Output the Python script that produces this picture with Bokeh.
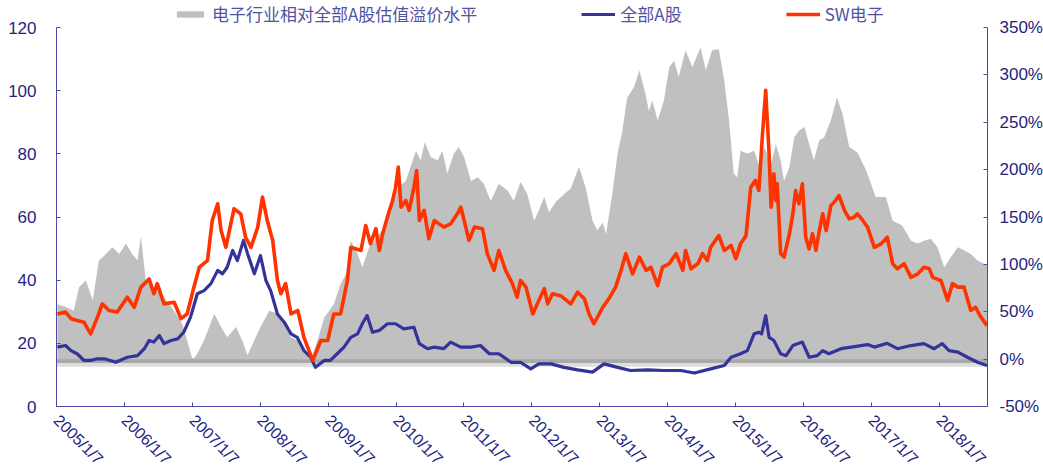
import math
from bokeh.plotting import figure
from bokeh.models import (Range1d, LinearAxis, FixedTicker, PrintfTickFormatter,
                          Legend, LegendItem, BoxAnnotation)
from bokeh.embed import file_html
from bokeh.resources import INLINE

# ---------------- data (time in decimal years) ----------------
prem_t = [2005.03, 2005.15, 2005.27, 2005.35, 2005.45, 2005.55, 2005.64, 2005.72, 2005.84, 2005.94,
          2006.04, 2006.13, 2006.21, 2006.26, 2006.33, 2006.43, 2006.60, 2006.75, 2006.87, 2006.94,
          2007.02, 2007.09, 2007.19, 2007.34, 2007.44, 2007.53, 2007.66, 2007.75, 2007.83, 2007.93,
          2008.02, 2008.15, 2008.27, 2008.37, 2008.47, 2008.56, 2008.66, 2008.76, 2008.86, 2008.96,
          2009.10, 2009.20, 2009.28, 2009.35, 2009.45, 2009.52, 2009.62, 2009.74, 2009.84, 2009.94,
          2010.04, 2010.16, 2010.31, 2010.38, 2010.44, 2010.53, 2010.63, 2010.70, 2010.77, 2010.87,
          2010.94, 2011.02, 2011.12, 2011.22, 2011.31, 2011.41, 2011.53, 2011.66, 2011.75, 2011.85,
          2011.95, 2012.05, 2012.12, 2012.20, 2012.27, 2012.37, 2012.49, 2012.59, 2012.71, 2012.81,
          2012.91, 2012.98, 2013.06, 2013.11, 2013.20, 2013.28, 2013.35, 2013.42, 2013.52, 2013.60,
          2013.69, 2013.74, 2013.79, 2013.87, 2013.96, 2014.04, 2014.11, 2014.18, 2014.28, 2014.38,
          2014.50, 2014.58, 2014.67, 2014.77, 2014.85, 2014.92, 2014.99, 2015.04, 2015.09, 2015.19,
          2015.29, 2015.37, 2015.44, 2015.54, 2015.61, 2015.68, 2015.73, 2015.81, 2015.88, 2015.95,
          2016.03, 2016.10, 2016.17, 2016.25, 2016.32, 2016.42, 2016.51, 2016.59, 2016.69, 2016.81,
          2016.94, 2017.08, 2017.23, 2017.33, 2017.47, 2017.60, 2017.70, 2017.79, 2017.89, 2017.99,
          2018.09, 2018.19, 2018.29, 2018.38, 2018.48, 2018.58, 2018.72]
prem_v = [58, 55, 51, 76, 83, 62, 104, 109, 118, 111,
          122, 111, 104, 130, 83, 76, 65, 51, 37, 20,
          -1, 6, 20, 48, 34, 23, 34, 20, 4, 20,
          34, 51, 48, 41, 23, 20, 9, -1, 20, 44,
          58, 79, 90, 125, 111, 97, 118, 129, 139, 160,
          181, 188, 220, 210, 229, 213, 210, 220, 196, 217,
          224, 213, 188, 192, 185, 167, 185, 178, 167, 187,
          174, 146, 157, 171, 155, 166, 174, 180, 203, 181,
          146, 136, 144, 132, 174, 217, 241, 276, 287, 305,
          280, 262, 273, 252, 273, 308, 315, 298, 326, 308,
          329, 305, 326, 327, 294, 252, 196, 192, 220, 217,
          220, 203, 224, 206, 227, 210, 188, 203, 234, 241,
          245, 227, 210, 231, 234, 252, 276, 259, 224, 218,
          199, 171, 171, 146, 141, 125, 122, 125, 127, 118,
          97, 108, 118, 115, 111, 104, 99]

a_t = [2005.03, 2005.15, 2005.23, 2005.32, 2005.42, 2005.52, 2005.62, 2005.72, 2005.89, 2006.06,
       2006.21, 2006.31, 2006.38, 2006.45, 2006.53, 2006.60, 2006.70, 2006.80, 2006.89, 2006.99,
       2007.09, 2007.19, 2007.29, 2007.39, 2007.46, 2007.53, 2007.61, 2007.68, 2007.77, 2007.83,
       2007.93, 2008.02, 2008.10, 2008.17, 2008.27, 2008.37, 2008.47, 2008.56, 2008.66, 2008.76,
       2008.83, 2008.96, 2009.05, 2009.15, 2009.25, 2009.35, 2009.45, 2009.52, 2009.59, 2009.67,
       2009.77, 2009.89, 2010.01, 2010.13, 2010.28, 2010.36, 2010.48, 2010.58, 2010.72, 2010.82,
       2010.97, 2011.12, 2011.26, 2011.39, 2011.53, 2011.71, 2011.85, 2012.00, 2012.12, 2012.30,
       2012.49, 2012.69, 2012.91, 2013.08, 2013.28, 2013.47, 2013.72, 2013.96, 2014.21, 2014.41,
       2014.65, 2014.85, 2014.95, 2015.09, 2015.19, 2015.29, 2015.36, 2015.40, 2015.46, 2015.51,
       2015.58, 2015.68, 2015.76, 2015.86, 2016.00, 2016.10, 2016.22, 2016.30, 2016.39, 2016.57,
       2016.72, 2016.96, 2017.06, 2017.25, 2017.40, 2017.60, 2017.79, 2017.94, 2018.06, 2018.16,
       2018.29, 2018.43, 2018.58, 2018.72]
a_v = [18.8, 19.3, 17.7, 16.7, 14.6, 14.6, 15.1, 15.1, 14.0, 15.6,
       16.1, 18.3, 20.9, 20.4, 22.5, 19.9, 20.9, 21.4, 23.5, 28.3,
       35.7, 36.7, 38.9, 43.1, 42.0, 44.1, 49.4, 46.2, 52.6, 48.4,
       42.0, 47.8, 39.9, 36.7, 29.3, 26.7, 23.0, 21.9, 17.7, 15.6,
       12.4, 14.6, 14.6, 16.7, 18.8, 21.9, 23.0, 26.2, 28.8, 23.5,
       24.1, 26.2, 26.2, 24.6, 25.1, 19.9, 18.3, 18.8, 18.3, 20.4,
       18.8, 18.8, 19.3, 16.7, 16.7, 14.0, 14.0, 11.9, 13.5, 13.5,
       12.4, 11.6, 10.9, 13.5, 12.4, 11.4, 11.6, 11.4, 11.4, 10.6,
       11.9, 13.0, 15.6, 16.7, 17.7, 23.0, 23.5, 23.0, 28.8, 21.9,
       20.9, 16.7, 16.1, 19.3, 20.4, 15.6, 16.1, 17.7, 16.7, 18.3,
       18.8, 19.6, 18.8, 20.0, 18.3, 19.3, 19.9, 18.3, 19.9, 17.7,
       17.2, 15.6, 14.0, 13.0]

sw_t = [2005.03, 2005.15, 2005.23, 2005.32, 2005.42, 2005.52, 2005.62, 2005.69, 2005.79, 2005.91,
        2006.06, 2006.16, 2006.26, 2006.38, 2006.45, 2006.50, 2006.60, 2006.75, 2006.85, 2006.94,
        2007.04, 2007.12, 2007.24, 2007.31, 2007.39, 2007.44, 2007.51, 2007.63, 2007.73, 2007.80,
        2007.88, 2007.98, 2008.05, 2008.12, 2008.20, 2008.27, 2008.32, 2008.39, 2008.47, 2008.57,
        2008.66, 2008.79, 2008.91, 2009.01, 2009.10, 2009.20, 2009.30, 2009.35, 2009.50, 2009.57,
        2009.64, 2009.72, 2009.77, 2009.82, 2009.91, 2009.96, 2010.01, 2010.05, 2010.09, 2010.16,
        2010.21, 2010.28, 2010.32, 2010.36, 2010.43, 2010.50, 2010.58, 2010.72, 2010.82, 2010.92,
        2010.97, 2011.02, 2011.09, 2011.17, 2011.29, 2011.36, 2011.46, 2011.53, 2011.63, 2011.73,
        2011.80, 2011.85, 2011.93, 2012.03, 2012.12, 2012.20, 2012.25, 2012.32, 2012.44, 2012.59,
        2012.69, 2012.79, 2012.86, 2012.93, 2013.06, 2013.15, 2013.25, 2013.33, 2013.40, 2013.50,
        2013.60, 2013.70, 2013.77, 2013.87, 2013.94, 2014.04, 2014.14, 2014.24, 2014.28, 2014.36,
        2014.46, 2014.53, 2014.60, 2014.65, 2014.77, 2014.85, 2014.95, 2015.02, 2015.09, 2015.17,
        2015.24, 2015.31, 2015.36, 2015.41, 2015.46, 2015.51, 2015.54, 2015.58, 2015.61, 2015.63,
        2015.68, 2015.73, 2015.81, 2015.86, 2015.90, 2015.95, 2016.00, 2016.05, 2016.10, 2016.15,
        2016.20, 2016.25, 2016.30, 2016.35, 2016.42, 2016.49, 2016.54, 2016.62, 2016.69, 2016.76,
        2016.81, 2016.89, 2016.96, 2017.06, 2017.16, 2017.25, 2017.33, 2017.40, 2017.50, 2017.60,
        2017.70, 2017.79, 2017.87, 2017.92, 2018.04, 2018.14, 2018.21, 2018.29, 2018.38, 2018.48,
        2018.55, 2018.63, 2018.72]
sw_v = [29.3, 29.9, 27.8, 27.2, 26.7, 23.0, 28.3, 32.5, 30.4, 29.9,
        34.6, 31.4, 37.8, 40.4, 35.7, 38.9, 32.5, 33.0, 27.8, 29.3,
        37.8, 44.1, 46.2, 58.9, 64.2, 55.7, 50.4, 62.6, 61.0, 53.6,
        50.4, 56.8, 66.3, 58.9, 52.6, 39.9, 35.7, 38.9, 29.3, 30.4,
        21.9, 14.6, 20.9, 20.9, 29.3, 29.3, 39.9, 50.4, 49.4, 57.3,
        51.5, 56.3, 49.4, 54.7, 61.5, 64.7, 69.4, 75.8, 63.1, 65.2,
        62.1, 69.4, 74.7, 58.9, 62.1, 53.1, 58.9, 56.8, 57.8, 61.0,
        63.1, 58.9, 52.6, 56.8, 56.3, 48.4, 43.1, 49.4, 43.1, 38.9,
        34.6, 39.9, 37.8, 29.3, 33.6, 37.3, 32.5, 35.7, 35.1, 32.5,
        36.2, 34.1, 29.3, 26.2, 31.4, 34.1, 37.8, 43.1, 48.4, 42.0,
        47.3, 43.1, 44.1, 38.3, 44.1, 45.2, 48.4, 43.1, 49.4, 43.6,
        45.2, 48.4, 46.2, 50.4, 54.1, 49.4, 51.0, 46.8, 51.5, 54.1,
        69.4, 71.6, 68.4, 85.3, 100.1, 80.0, 63.1, 73.7, 65.2, 70.5,
        48.4, 47.3, 54.7, 61.0, 68.4, 64.2, 70.5, 53.6, 49.9, 54.7,
        49.4, 55.7, 61.0, 55.7, 63.6, 65.2, 66.8, 62.1, 59.4, 59.9,
        61.0, 58.9, 56.8, 50.4, 51.5, 53.6, 45.2, 43.6, 45.2, 40.9,
        42.0, 44.1, 43.6, 40.9, 39.9, 33.6, 38.9, 37.8, 37.8, 30.4,
        31.4, 28.3, 25.6]

tick_years = [2005, 2006, 2007, 2008, 2009, 2010, 2011, 2012, 2013, 2014, 2015, 2016, 2017, 2018]
tick_labels = ["2005/1/7", "2006/1/7", "2007/1/7", "2008/1/7", "2009/1/7", "2010/1/7", "2011/1/7",
               "2012/1/7", "2013/1/7", "2014/1/7", "2015/1/7", "2016/1/7", "2017/1/7", "2018/1/7"]
left_ticks = [0, 20, 40, 60, 80, 100, 120]
right_ticks = [-50, 0, 50, 100, 150, 200, 250, 300, 350]

legend_labels = ["电子行业相对全部A股估值溢价水平", "全部A股", "SW电子"]

# ---------------- styling ----------------
NAVY = "#1f1f80"
AXIS = "#4a4aa8"
GREY = "#c0c0c0"
BLUE = "#333399"
RED = "#ff3300"
FONT = "Liberation Sans"
CJK = "Noto Sans CJK SC"

# frame covers the legend strip too; axes are bounded to the data ranges
FRAME_H = 406
AXIS_H = 379
left_top = left_ticks[-1] * FRAME_H / AXIS_H
right_top = right_ticks[0] + (right_ticks[-1] - right_ticks[0]) * FRAME_H / AXIS_H

x0 = tick_years[0] + 6 / 365.0
x1 = x0 + 13.71

p = figure(frame_width=931, frame_height=FRAME_H,
           x_range=Range1d(x0, x1), y_range=Range1d(0, left_top),
           output_backend="svg", toolbar_location=None,
           min_border_left=56, min_border_right=55, min_border_top=0, min_border_bottom=65,
           background_fill_color="white", border_fill_color="white")
p.extra_y_ranges = {"pct": Range1d(right_ticks[0], right_top)}
p.xgrid.visible = False
p.ygrid.visible = False
p.outline_line_color = None

# shadow band along the 0% base of the premium area
p.add_layout(BoxAnnotation(bottom=-8, top=-4, y_range_name="pct", fill_color="#dedede",
                           fill_alpha=1, line_color=None, level="underlay"))
p.add_layout(BoxAnnotation(bottom=-4, top=1, y_range_name="pct", fill_color="#a9a9a9",
                           fill_alpha=1, line_color=None, level="underlay"))

area = p.varea(x=prem_t, y1=0, y2=prem_v, y_range_name="pct", fill_color=GREY, fill_alpha=1)
l_a = p.line(a_t, a_v, line_color=BLUE, line_width=3.2, line_join="round")
l_sw = p.line(sw_t, sw_v, line_color=RED, line_width=3.6, line_join="round")

# left axis
ya = p.yaxis[0]
ya.ticker = FixedTicker(ticks=left_ticks)
ya.bounds = (left_ticks[0], left_ticks[-1])
ya.major_tick_in = 4
ya.major_tick_out = 0
ya.minor_tick_line_color = None
ya.axis_line_color = AXIS
ya.major_tick_line_color = AXIS
ya.major_label_text_color = NAVY
ya.major_label_text_font = FONT
ya.major_label_text_font_size = "17px"
ya.major_label_standoff = 20

# right axis
ra = LinearAxis(y_range_name="pct", ticker=FixedTicker(ticks=right_ticks),
                formatter=PrintfTickFormatter(format="%d%%"),
                bounds=(right_ticks[0], right_ticks[-1]))
ra.major_tick_in = 4
ra.major_tick_out = 0
ra.minor_tick_line_color = None
ra.axis_line_color = AXIS
ra.major_tick_line_color = AXIS
ra.major_label_text_color = NAVY
ra.major_label_text_font = FONT
ra.major_label_text_font_size = "17px"
ra.major_label_standoff = 12
p.add_layout(ra, "right")

# bottom axis
xa = p.xaxis[0]
tick_pos = [y + 6 / 365.0 for y in tick_years]
xa.ticker = FixedTicker(ticks=tick_pos)
xa.major_label_overrides = {t: lab for t, lab in zip(tick_pos, tick_labels)}
xa.major_label_orientation = -math.pi / 4
xa.major_tick_in = 4
xa.major_tick_out = 0
xa.minor_tick_line_color = None
xa.axis_line_color = AXIS
xa.major_tick_line_color = AXIS
xa.major_label_text_color = NAVY
xa.major_label_text_font = FONT
xa.major_label_text_font_size = "16px"
xa.major_label_standoff = 11

legend = Legend(items=[LegendItem(label=legend_labels[0], renderers=[area]),
                       LegendItem(label=legend_labels[1], renderers=[l_a]),
                       LegendItem(label=legend_labels[2], renderers=[l_sw])],
                orientation="horizontal", location=(117, 380),
                glyph_width=34, glyph_height=8, label_standoff=5, spacing=104,
                padding=0, margin=0, border_line_color=None, background_fill_alpha=0,
                label_text_font=CJK, label_text_font_size="17px", label_text_color="#5252a3",
                label_height=20)
p.add_layout(legend, "center")

open("out.html", "w").write(file_html(p, INLINE))
